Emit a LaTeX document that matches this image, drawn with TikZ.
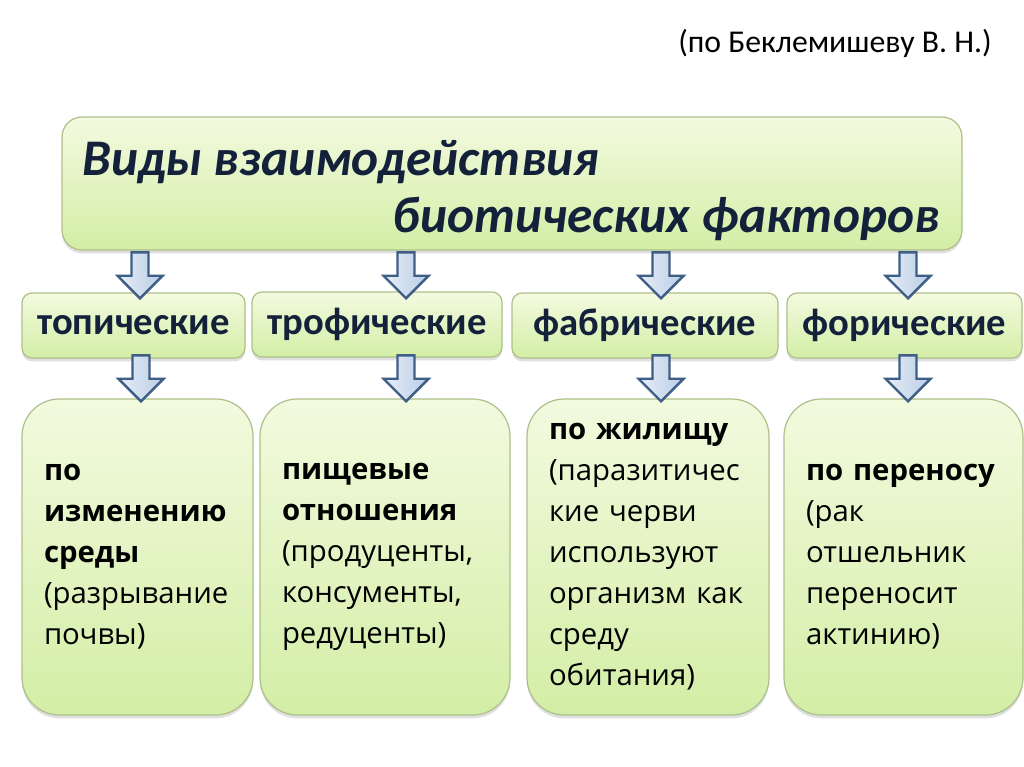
\documentclass[tikz,border=0pt]{standalone}
\usepackage{fontspec}
\setmainfont{Carlito}
\newfontfamily\opensans{Open Sans}
\usepackage{tikz}
\usetikzlibrary{shapes,shapes.arrows,shadows,positioning}
\definecolor{boxtop}{HTML}{F3FADF}
\definecolor{boxbot}{HTML}{D3EEA6}
\definecolor{boxline}{HTML}{AEBF8A}
\definecolor{navy}{HTML}{14213A}
\definecolor{arrline}{HTML}{3F5E86}
\definecolor{arrtop}{HTML}{E6EDF7}
\definecolor{arrbot}{HTML}{BACDE6}

\begin{document}
\begin{tikzpicture}[x=0.75pt,y=-0.75pt]
	\tikzstyle{gbox}=[rectangle, draw=boxline, line width=0.9pt, top color=boxtop, bottom color=boxbot,
		drop shadow={opacity=0.25, shadow xshift=0pt, shadow yshift=-2.5pt}]
	\tikzstyle{headbox}=[gbox, rounded corners=15pt, minimum width=675pt, minimum height=99.75pt]
	\tikzstyle{headtext}=[inner sep=0pt, text=navy, font=\bfseries\itshape\fontsize{38.5}{46}\selectfont]
	\tikzstyle{kindbox}=[gbox, rounded corners=7.5pt, minimum height=48.75pt, text=navy,
		font=\bfseries\fontsize{29}{35}\selectfont]
	\tikzstyle{notebox}=[gbox, rounded corners=28pt, minimum height=237pt, inner xsep=16.5pt, align=left,
		font=\opensans\fontsize{22}{30.75}\selectfont]
	\tikzstyle{downarrow}=[single arrow, rotate=-90, draw=arrline, line width=1.8pt, left color=arrtop,
		right color=arrbot, minimum height=34.5pt, inner sep=5.5pt, single arrow head extend=10.5pt,
		single arrow tip angle=90, anchor=tip]
	\fill[white] (0,0) rectangle (1024,767);
	\useasboundingbox (0,0) rectangle (1024,767);
	% author
	\node[font=\fontsize{23.8}{28}\selectfont, anchor=base] (src) at (835,53) {(по Беклемишеву В. Н.)};
	% header
	\node[headbox] (head) at (512,183.5) {};
	\node[headtext, anchor=base west] (hd1) at (82,175) {Виды взаимодействия};
	\node[headtext, anchor=base east] (hd2) at (940,232) {биотических факторов};
	% kinds
	\node[kindbox, minimum width=167.25pt] (topic) at (133.5,325.5) {топические};
	\node[kindbox, minimum width=187.5pt] (troph) at (377,324.5) {трофические};
	\node[kindbox, minimum width=199.5pt] (fabr) at (645,325.5) {фабрические};
	\node[kindbox, minimum width=176.25pt] (phor) at (904.5,325.5) {форические};
	\foreach \x/\n in {140/a1,406/a2,661/a3,908/a4}
		\node[downarrow] (\n) at (\x,300) {};
	% notes
	\node[notebox, text width=140.25pt] (ntopic) at (137.5,557) {\textbf{по}\\ \textbf{изменению}\\ \textbf{среды}\\ (разрывание\\ почвы)};
	\node[notebox, text width=154.5pt] (ntroph) at (385,557) {\textbf{пищевые}\\ \textbf{отношения}\\ (продуценты,\\ консументы,\\ редуценты)};
	\node[notebox, text width=148.5pt] (nfabr) at (648,557) {\textbf{по жилищу}\\ (паразитичес\\ кие черви\\ используют\\ организм как\\ среду\\ обитания)};
	\node[notebox, text width=146.25pt] (nphor) at (903.5,557) {\textbf{по переносу}\\ (рак\\ отшельник\\ переносит\\ актинию)};
	\foreach \x/\n in {141/b1,406/b2,661/b3,908/b4}
		\node[downarrow] (\n) at (\x,403) {};
\end{tikzpicture}
\end{document}
